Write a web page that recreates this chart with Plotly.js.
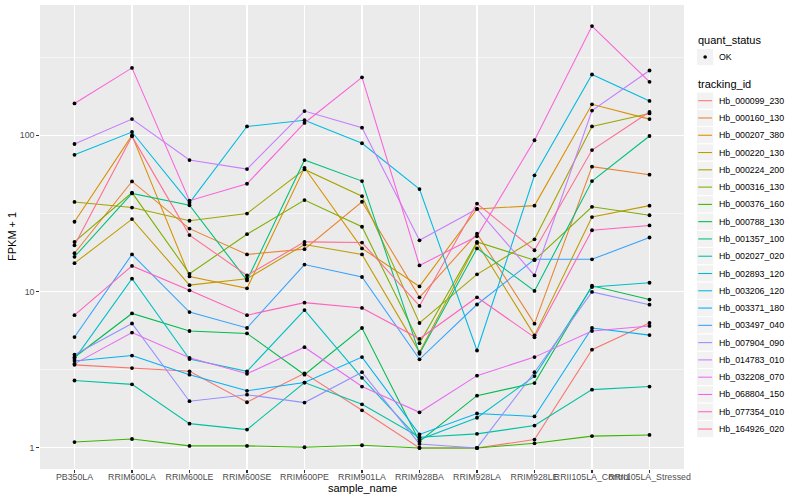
<!DOCTYPE html>
<html>
<head>
<meta charset="utf-8">
<script src="https://cdn.plot.ly/plotly-3.0.1.min.js"></script>
<style>
html,body{margin:0;padding:0;background:#fff;}
#chart{width:800px;height:500px;}
</style>
</head>
<body>
<div id="chart"></div>
<script>
// ---- data ----
const samples = ["PB350LA","RRIM600LA","RRIM600LE","RRIM600SE","RRIM600PE","RRIM901LA","RRIM928BA","RRIM928LA","RRIM928LE","RRII105LA_Control","RRII105LA_Stressed"];

const trackingIds = ["Hb_000099_230","Hb_000160_130","Hb_000207_380","Hb_000220_130","Hb_000224_200","Hb_000316_130","Hb_000376_160","Hb_000788_130","Hb_001357_100","Hb_002027_020","Hb_002893_120","Hb_003206_120","Hb_003371_180","Hb_003497_040","Hb_007904_090","Hb_014783_010","Hb_032208_070","Hb_068804_150","Hb_077354_010","Hb_164926_020"];

const hb_000099_230 = [3.4, 3.24, 3.09, 1.96, 3.0, 1.74, 1.0, 1.0, 1.13, 4.25, 6.3];
const hb_000160_130 = [17.6, 50.7, 25.3, 17.3, 18.7, 37.6, 9.2, 23.5, 6.24, 63, 56];
const hb_000207_380 = [28, 100, 12.5, 10.5, 62, 18.9, 10.8, 33.8, 35.5, 158, 127];
const hb_000220_130 = [15.2, 29.1, 11.0, 12.1, 20.0, 17.3, 4.1, 20.5, 5.25, 30, 35.5];
const hb_000224_200 = [37.5, 34.5, 28.4, 31.6, 60.5, 40.8, 6.3, 12.9, 21.6, 114, 138];
const hb_000316_130 = [20.8, 43, 13.0, 23.3, 38.5, 26, 4.68, 20.8, 15.9, 34.9, 30.8];
const hb_000376_160 = [1.09, 1.14, 1.03, 1.03, 1.01, 1.04, 1.0, 1.0, 1.07, 1.19, 1.21];
const hb_000788_130 = [3.8, 7.25, 5.6, 5.4, 2.94, 5.85, 1.1, 2.16, 2.6, 10.9, 8.9];
const hb_001357_100 = [16.7, 42.5, 35.7, 11.8, 69.5, 51, 4.0, 18.9, 10.1, 51, 99];
const hb_002027_020 = [2.7, 2.55, 1.43, 1.31, 2.62, 1.9, 1.17, 1.23, 1.39, 2.36, 2.47];
const hb_002893_120 = [3.7, 12.1, 3.7, 3.09, 7.62, 2.81, 1.13, 1.56, 2.88, 10.7, 11.4];
const hb_003206_120 = [75, 105, 37, 114, 125, 89, 45.3, 4.2, 55.5, 245, 166];
const hb_003371_180 = [3.6, 3.9, 2.94, 2.32, 2.62, 3.81, 1.22, 1.66, 1.59, 5.85, 5.27];
const hb_003497_040 = [5.12, 17.3, 7.4, 5.85, 14.9, 12.4, 3.69, 8.27, 16.1, 16.1, 22.2];
const hb_007904_090 = [3.95, 6.25, 1.99, 2.19, 1.95, 3.05, 1.06, 1.0, 3.05, 9.95, 8.25];
const hb_014783_010 = [88, 127, 69.5, 60.8, 143, 112, 21.3, 33.8, 12.7, 144, 260];
const hb_032208_070 = [3.45, 5.47, 3.77, 2.98, 4.41, 2.47, 1.69, 2.9, 3.81, 5.6, 6.03];
const hb_068804_150 = [160, 270, 38.2, 49, 120, 235, 14.7, 22.6, 93, 500, 220];
const hb_077354_010 = [7.07, 14.6, 10.2, 7.07, 8.5, 7.86, 4.99, 9.2, 5.1, 24.7, 26.5];
const hb_164926_020 = [19.8, 98.5, 23.0, 12.7, 20.8, 20.6, 8.1, 36.6, 18.4, 80.5, 141];

const yTickVals = [1, 10, 100];
const yTickText = ["1", "10", "100"];
const quantStatus = ["OK"];

// ---- styling ----
const seriesValues = [hb_000099_230,hb_000160_130,hb_000207_380,hb_000220_130,hb_000224_200,hb_000316_130,hb_000376_160,hb_000788_130,hb_001357_100,hb_002027_020,hb_002893_120,hb_003206_120,hb_003371_180,hb_003497_040,hb_007904_090,hb_014783_010,hb_032208_070,hb_068804_150,hb_077354_010,hb_164926_020];
const colors = ['#F8766D','#EA8331','#D89000','#C09B00','#A3A500','#7CAE00','#39B600','#00BB4E','#00BF7D','#00C1A3','#00BFC4','#00BAE0','#00B0F6','#35A2FF','#9590FF','#C77CFF','#E76BF3','#FA62DB','#FF62BC','#FF6C91'];

const FONT = 'Liberation Sans, Arial, Helvetica, sans-serif';
const traces = [];
seriesValues.forEach((vals, i) => {
  traces.push({x: samples, y: vals, type: 'scatter', mode: 'lines', name: trackingIds[i],
    line: {color: colors[i], width: 1.07}, hoverinfo: 'skip'});
});
seriesValues.forEach((vals, i) => {
  traces.push({x: samples, y: vals, type: 'scatter', mode: 'markers', name: trackingIds[i] + ' ' + quantStatus[0],
    marker: {color: '#000000', size: 3.8, line: {width: 0}}, hoverinfo: 'skip'});
});

// y range like ggplot (5% expansion in log space)
const allVals = [].concat(...seriesValues);
const lo = Math.log10(Math.min(...allVals)), hi = Math.log10(Math.max(...allVals));
const ex = (hi - lo) * 0.05;

// panel geometry (pixels)
const PL = 40, PR = 684, PT = 5, PB = 469;
const PX = px => (px - PL) / (PR - PL);
const PY = py => (PB - py) / (PB - PT);

const shapes = [];
const annotations = [];

// axis titles
annotations.push({text: 'sample_name', xref: 'paper', yref: 'paper', x: 0.5, y: PY(488), xanchor: 'center', yanchor: 'middle', showarrow: false, font: {family: FONT, size: 11, color: '#000'}});
annotations.push({text: 'FPKM + 1', xref: 'paper', yref: 'paper', x: PX(12), y: 0.5, xanchor: 'center', yanchor: 'middle', textangle: -90, showarrow: false, font: {family: FONT, size: 11, color: '#000'}});

// legend: quant_status
const LX = 696.5, KW = 17.28, TX = 717;
annotations.push({text: 'quant_status', xref: 'paper', yref: 'paper', x: PX(LX - 0.5), y: PY(40), xanchor: 'left', yanchor: 'middle', showarrow: false, font: {family: FONT, size: 11, color: '#000'}});
{
  const cy = 57;
  shapes.push({type: 'rect', xref: 'paper', yref: 'paper', x0: PX(LX), x1: PX(LX + KW), y0: PY(cy - KW / 2), y1: PY(cy + KW / 2), fillcolor: '#F2F2F2', line: {color: '#FFFFFF', width: 1}});
  const cx = LX + KW / 2, r = 1.8;
  shapes.push({type: 'circle', xref: 'paper', yref: 'paper', x0: PX(cx - r), x1: PX(cx + r), y0: PY(cy - r), y1: PY(cy + r), fillcolor: '#000', line: {width: 0}});
  annotations.push({text: quantStatus[0], xref: 'paper', yref: 'paper', x: PX(TX), y: PY(cy), xanchor: 'left', yanchor: 'middle', showarrow: false, font: {family: FONT, size: 8.8, color: '#000'}});
}
// legend: tracking_id
annotations.push({text: 'tracking_id', xref: 'paper', yref: 'paper', x: PX(LX - 0.5), y: PY(84.3), xanchor: 'left', yanchor: 'middle', showarrow: false, font: {family: FONT, size: 11, color: '#000'}});
trackingIds.forEach((id, i) => {
  const cy = 100.7 + KW * i;
  shapes.push({type: 'rect', xref: 'paper', yref: 'paper', x0: PX(LX), x1: PX(LX + KW), y0: PY(cy - KW / 2), y1: PY(cy + KW / 2), fillcolor: '#F2F2F2', line: {color: '#FFFFFF', width: 1}});
  shapes.push({type: 'line', xref: 'paper', yref: 'paper', x0: PX(LX + 1.7), x1: PX(LX + KW - 1.7), y0: PY(cy), y1: PY(cy), line: {color: colors[i], width: 1.07}});
  annotations.push({text: id, xref: 'paper', yref: 'paper', x: PX(TX), y: PY(cy), xanchor: 'left', yanchor: 'middle', showarrow: false, font: {family: FONT, size: 8.8, color: '#000'}});
});

const layout = {
  width: 800, height: 500,
  margin: {l: PL, r: 800 - PR, t: PT, b: 500 - PB, pad: 0},
  paper_bgcolor: '#FFFFFF', plot_bgcolor: '#EBEBEB',
  showlegend: false,
  font: {family: FONT},
  xaxis: {type: 'category', categoryorder: 'array', categoryarray: samples, range: [-0.6, samples.length - 0.4],
    showgrid: true, gridcolor: '#FFFFFF', gridwidth: 1.07, zeroline: false, showline: false,
    ticks: 'outside', ticklen: 2.75, tickwidth: 1.07, tickcolor: '#333333', tickangle: 0,
    ticklabelstandoff: -3,
    tickfont: {family: FONT, size: 8.8, color: '#4D4D4D'}, automargin: false, fixedrange: true},
  yaxis: {type: 'log', range: [lo - ex, hi + ex], tickmode: 'array', tickvals: yTickVals, ticktext: yTickText,
    showgrid: true, gridcolor: '#FFFFFF', gridwidth: 1.07, zeroline: false, showline: false,
    minor: {tickmode: 'array', tickvals: [Math.pow(10, 0.5), Math.pow(10, 1.5), Math.pow(10, 2.5)], showgrid: true, gridcolor: '#FFFFFF', gridwidth: 0.53, ticks: ''},
    ticks: 'outside', ticklen: 2.75, tickwidth: 1.07, tickcolor: '#333333',
    tickfont: {family: FONT, size: 8.8, color: '#4D4D4D'}, automargin: false, fixedrange: true},
  shapes: shapes,
  annotations: annotations
};

Plotly.newPlot('chart', traces, layout, {staticPlot: true, displayModeBar: false});
</script>
</body>
</html>
